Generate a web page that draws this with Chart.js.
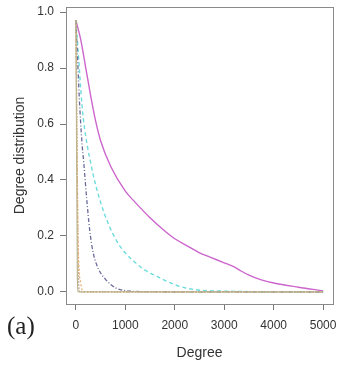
<!DOCTYPE html>
<html>
<head>
<meta charset="utf-8">
<script src="https://cdn.jsdelivr.net/npm/chart.js@4"></script>
<style>
  body { margin: 0; background: #fff; }
  #wrap { position: relative; width: 353px; height: 368px; }
  #tag { position: absolute; left: 7px; top: 312px; font: 25px "Liberation Serif", serif; color: #222; }
</style>
</head>
<body>
<div id="wrap">
  <canvas id="degreeChart" width="353" height="368"></canvas>
  <div id="tag">(a)</div>
</div>
<script>
// values
const xTicks = [0, 1000, 2000, 3000, 4000, 5000];
const yTicks = [0, 0.2, 0.4, 0.6, 0.8, 1.0];

const magentaDeg = [0, 100, 200, 300, 400, 500, 700, 1000, 1200, 1500, 1750, 2000, 2250, 2500, 2750, 3000, 3200, 3350, 3500, 3750, 4000, 4500, 5000];
const magentaVal = [0.97, 0.90, 0.80, 0.70, 0.61, 0.54, 0.45, 0.36, 0.32, 0.265, 0.225, 0.19, 0.165, 0.14, 0.122, 0.104, 0.09, 0.074, 0.06, 0.043, 0.032, 0.017, 0.004];

const cyanDeg = [0, 50, 100, 150, 300, 500, 800, 1200, 1700, 2200, 3000, 5000];
const cyanVal = [0.97, 0.85, 0.72, 0.62, 0.46, 0.32, 0.19, 0.105, 0.05, 0.015, 0.003, 0];

const purpleDeg = [0, 30, 70, 120, 160, 220, 280, 350, 450, 600, 800, 1000, 1500, 5000];
const purpleVal = [0.97, 0.85, 0.69, 0.54, 0.46, 0.33, 0.22, 0.14, 0.085, 0.045, 0.015, 0.005, 0.001, 0];

const brownDeg = [0, 20, 40, 60, 80, 5000];
const brownVal = [0.97, 0.6, 0.2, 0.02, 0, 0];

const oliveDeg = [0, 15, 30, 50, 5000];
const oliveVal = [0.97, 0.5, 0.05, 0, 0];

const orangeDeg = [0, 25, 50, 100, 150, 5000];
const orangeVal = [0.97, 0.5, 0.15, 0.03, 0, 0];

function pts(xs, ys) {
  return xs.map((x, i) => ({ x: x, y: ys[i] }));
}

// R-style box around the plot area
const boxPlugin = {
  id: 'box',
  afterDraw(chart) {
    const a = chart.chartArea;
    const c = chart.ctx;
    c.save();
    c.strokeStyle = '#8a8a8a';
    c.lineWidth = 1;
    c.strokeRect(a.left + 0.5, a.top + 0.5, a.right - a.left, a.bottom - a.top);
    c.restore();
  }
};

const ctx = document.getElementById('degreeChart');

new Chart(ctx, {
  type: 'line',
  data: {
    datasets: [
      { data: pts(oliveDeg, oliveVal), borderColor: '#bcb690', borderWidth: 1.2 },
      { data: pts(orangeDeg, orangeVal), borderColor: '#e8a860', borderWidth: 1.2, borderDash: [2, 2] },
      { data: pts(brownDeg, brownVal), borderColor: '#8a6a50', borderWidth: 1.2, borderDash: [1, 2] },
      { data: pts(purpleDeg, purpleVal), borderColor: '#6a6a9a', borderWidth: 1.3, borderDash: [4, 2, 1, 2] },
      { data: pts(cyanDeg, cyanVal), borderColor: '#6fdcdc', borderWidth: 1.4, borderDash: [4, 3] },
      { data: pts(magentaDeg, magentaVal), borderColor: '#cc66cc', borderWidth: 1.4 }
    ]
  },
  options: {
    responsive: false,
    animation: false,
    layout: { padding: { top: 7, right: 20, left: 0, bottom: 0 } },
    elements: {
      point: { radius: 0 },
      line: { cubicInterpolationMode: 'monotone', fill: false }
    },
    scales: {
      x: {
        type: 'linear',
        min: -200,
        max: 5200,
        afterBuildTicks: (s) => { s.ticks = xTicks.map(v => ({ value: v })); },
        afterFit: (s) => { s.height = 64; s.paddingLeft = 0; s.paddingRight = 0; },
        grid: { drawOnChartArea: false, drawTicks: true, tickLength: 6, color: '#777' },
        border: { display: false },
        ticks: { color: '#333', font: { family: 'Liberation Sans', size: 12 }, padding: 8, maxRotation: 0, callback: (v) => String(v) },
        title: { display: true, text: 'Degree', color: '#333', font: { family: 'Liberation Sans', size: 14 }, padding: 6 }
      },
      y: {
        min: -0.043,
        max: 1.018,
        afterBuildTicks: (s) => { s.ticks = yTicks.map(v => ({ value: v })); },
        afterFit: (s) => { s.width = 66; s.paddingTop = 0; s.paddingBottom = 0; },
        grid: { drawOnChartArea: false, drawTicks: true, tickLength: 6, color: '#777' },
        border: { display: false },
        ticks: { color: '#333', font: { family: 'Liberation Sans', size: 12 }, padding: 6, callback: (v) => v.toFixed(1) },
        title: { display: true, text: 'Degree distribution', color: '#333', font: { family: 'Liberation Sans', size: 14 }, padding: 12 }
      }
    },
    plugins: {
      legend: { display: false },
      tooltip: { enabled: false }
    }
  },
  plugins: [boxPlugin]
});
</script>
</body>
</html>
